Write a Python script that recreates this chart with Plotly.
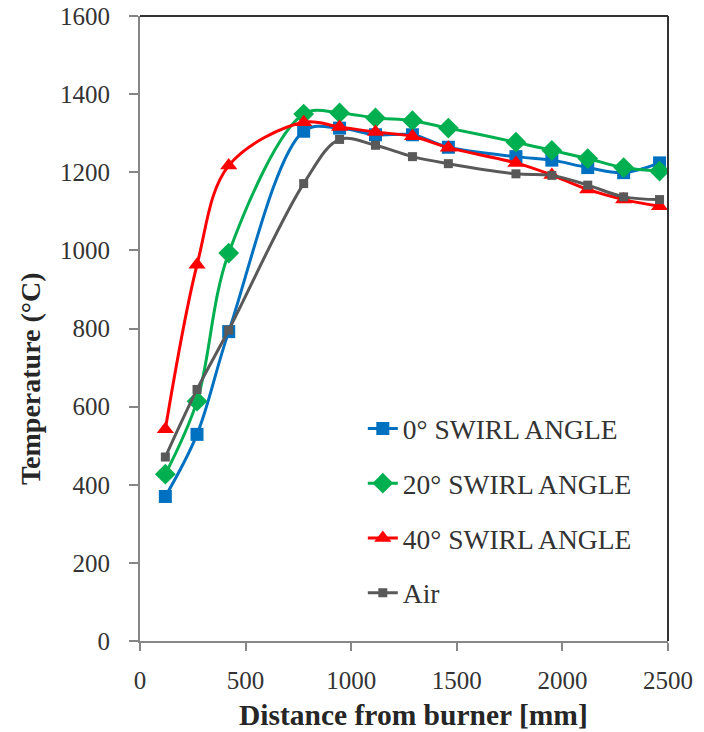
import plotly.graph_objects as go

distance = [120, 270, 420, 775, 945, 1115, 1290, 1460, 1780, 1950, 2120, 2290, 2460]
swirl_0 = [370, 529, 792, 1305, 1313, 1296, 1296, 1264, 1240, 1231, 1212, 1199, 1224]
swirl_20 = [427, 614, 993, 1349, 1352, 1339, 1332, 1313, 1277, 1256, 1235, 1212, 1203]
swirl_40 = [542, 963, 1217, 1328, 1316, 1303, 1292, 1263, 1224, 1193, 1156, 1130, 1113]
air = [471, 644, 796, 1171, 1284, 1269, 1240, 1222, 1196, 1192, 1167, 1137, 1130]

x_ticks = [0, 500, 1000, 1500, 2000, 2500]
y_ticks = [0, 200, 400, 600, 800, 1000, 1200, 1400, 1600]

FONT = "Liberation Serif"

series = [
    ("0° SWIRL ANGLE", swirl_0, "#0070C0", "square", 13),
    ("20° SWIRL ANGLE", swirl_20, "#00B050", "diamond", 16),
    ("40° SWIRL ANGLE", swirl_40, "#FF0000", "triangle-up", 15),
    ("Air", air, "#595959", "square", 9),
]

fig = go.Figure()
for i, (name, vals, color, sym, size) in enumerate(series):
    fig.add_trace(go.Scatter(
        x=distance, y=vals, name=name, mode="lines+markers",
        line=dict(color=color, width=3, shape="spline", smoothing=1.0),
        marker=dict(color=color, symbol=sym, size=size, line=dict(width=0)),
        legendgroup=f"g{i}",
    ))

axis_gray = "#868686"
H_PLOT = 732 - 16 - 91
fig.update_layout(
    width=704, height=732,
    margin=dict(l=140, r=36, t=16, b=91, autoexpand=False),
    paper_bgcolor="white", plot_bgcolor="white",
    font=dict(family=FONT, color="#333333"),
    showlegend=True,
    legend=dict(
        x=0.422, y=(641 - 404) / H_PLOT, xanchor="left", yanchor="top",
        font=dict(family=FONT, size=27.5, color="#333333"),
        bgcolor="rgba(0,0,0,0)", tracegroupgap=16,
    ),
    xaxis=dict(
        range=[0, 2500], tickvals=x_ticks, ticks="outside", ticklen=8,
        tickcolor=axis_gray, tickwidth=1.5, showline=True, linecolor=axis_gray,
        linewidth=2, showgrid=False, zeroline=False, automargin=False,
        tickfont=dict(family=FONT, size=25, color="#333333"),
        ticklabelstandoff=8,
    ),
    yaxis=dict(
        range=[0, 1600], tickvals=y_ticks, ticks="outside", ticklen=9,
        tickcolor=axis_gray, tickwidth=1.5, showline=True, linecolor=axis_gray,
        linewidth=2, showgrid=False, zeroline=False, automargin=False,
        tickfont=dict(family=FONT, size=25, color="#333333"),
        ticklabelstandoff=14,
    ),
    annotations=[
        dict(text="<b>Distance from burner [mm]</b>", xref="paper", yref="paper",
             x=(413 - 140) / 528, y=0, yshift=-74, showarrow=False,
             xanchor="center", yanchor="middle",
             font=dict(family=FONT, size=29.5, color="#262626")),
        dict(text="<b>Temperature (°C)</b>", xref="paper", yref="paper",
             x=0, y=(641 - 379) / H_PLOT, xshift=-110, showarrow=False, textangle=-90,
             xanchor="center", yanchor="middle",
             font=dict(family=FONT, size=28, color="#262626")),
    ],
    shapes=[
        dict(type="line", xref="paper", yref="paper", x0=0, x1=1, y0=1, y1=1,
             line=dict(color="#333333", width=2)),
        dict(type="line", xref="paper", yref="paper", x0=1, x1=1, y0=0, y1=1,
             line=dict(color="#333333", width=2)),
    ],
)

fig.write_html("out.html")
